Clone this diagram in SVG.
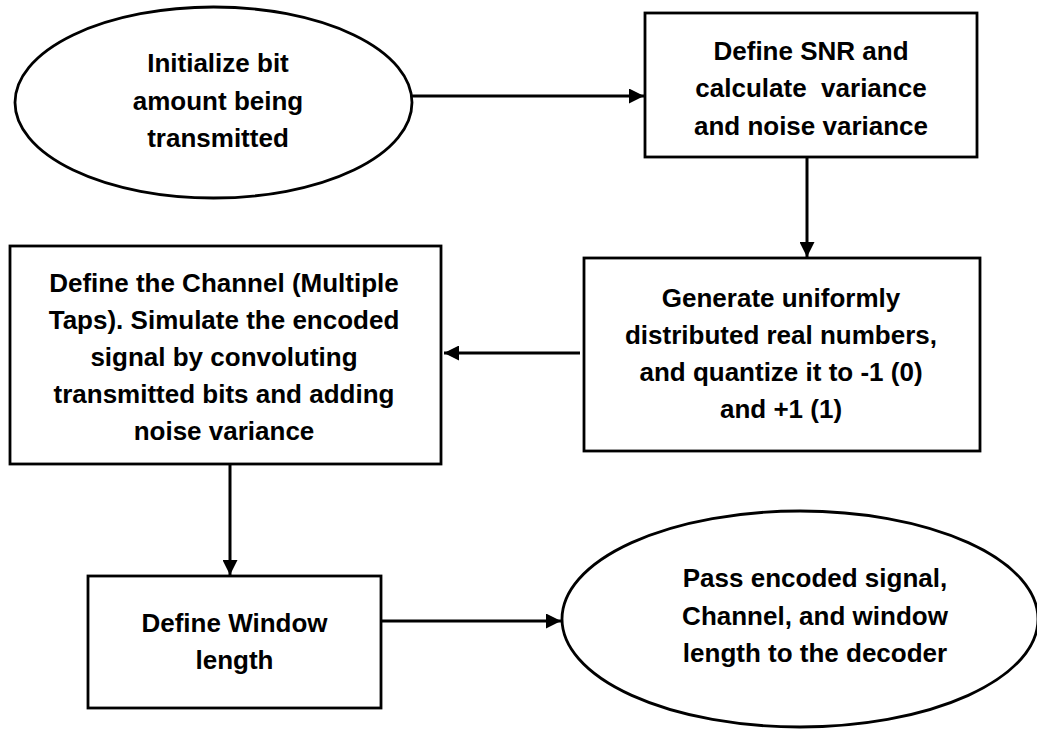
<svg xmlns="http://www.w3.org/2000/svg" width="1037" height="729" viewBox="0 0 1037 729">
  <style>
    .shape { fill: #ffffff; stroke: #000000; stroke-width: 2.8; }
    .conn { fill: none; stroke: #000000; stroke-width: 3; }
    text { font-family: "Liberation Sans", Arial, sans-serif; font-weight: bold; font-size: 26px; fill: #000000; text-anchor: middle; white-space: pre; }
  </style>
  <defs>
    <marker id="arrow" viewBox="0 0 10 10" refX="10" refY="5" markerWidth="5" markerHeight="5" orient="auto" markerUnits="strokeWidth">
      <path d="M0,0 L10,5 L0,10 z" fill="#000000"/>
    </marker>
  </defs>
  <rect x="0" y="0" width="1037" height="729" fill="#ffffff"/>

  <g id="connectors">
    <line class="conn" x1="412" y1="96" x2="644" y2="96" marker-end="url(#arrow)"/>
    <line class="conn" x1="807" y1="157" x2="807" y2="257" marker-end="url(#arrow)"/>
    <line class="conn" x1="580" y1="353" x2="444" y2="353" marker-end="url(#arrow)"/>
    <line class="conn" x1="230" y1="465" x2="230" y2="575" marker-end="url(#arrow)"/>
    <line class="conn" x1="381" y1="621" x2="561" y2="621" marker-end="url(#arrow)"/>
  </g>

  <g id="node-init">
    <ellipse class="shape" cx="213.5" cy="102.5" rx="198.5" ry="95.5"/>
    <text x="218" y="72">Initialize bit</text>
    <text x="218" y="109.5">amount being</text>
    <text x="218" y="147">transmitted</text>
  </g>

  <g id="node-snr">
    <rect class="shape" x="645" y="13" width="332" height="144"/>
    <text x="811" y="60">Define SNR and</text>
    <text x="811" y="97">calculate  variance</text>
    <text x="811" y="135">and noise variance</text>
  </g>

  <g id="node-generate">
    <rect class="shape" x="584" y="258" width="396" height="193"/>
    <text x="781" y="307">Generate uniformly</text>
    <text x="781" y="344">distributed real numbers,</text>
    <text x="781" y="381">and quantize it to -1 (0)</text>
    <text x="781" y="418">and +1 (1)</text>
  </g>

  <g id="node-channel">
    <rect class="shape" x="10" y="246" width="431" height="218"/>
    <text x="224" y="292">Define the Channel (Multiple</text>
    <text x="224" y="329">Taps). Simulate the encoded</text>
    <text x="224" y="366">signal by convoluting</text>
    <text x="224" y="403">transmitted bits and adding</text>
    <text x="224" y="440">noise variance</text>
  </g>

  <g id="node-window">
    <rect class="shape" x="88" y="576" width="293" height="132"/>
    <text x="234.5" y="632">Define Window</text>
    <text x="234.5" y="669">length</text>
  </g>

  <g id="node-pass">
    <ellipse class="shape" cx="800" cy="619" rx="238" ry="108"/>
    <text x="815" y="587">Pass encoded signal,</text>
    <text x="815" y="625">Channel, and window</text>
    <text x="815" y="662">length to the decoder</text>
  </g>
</svg>
